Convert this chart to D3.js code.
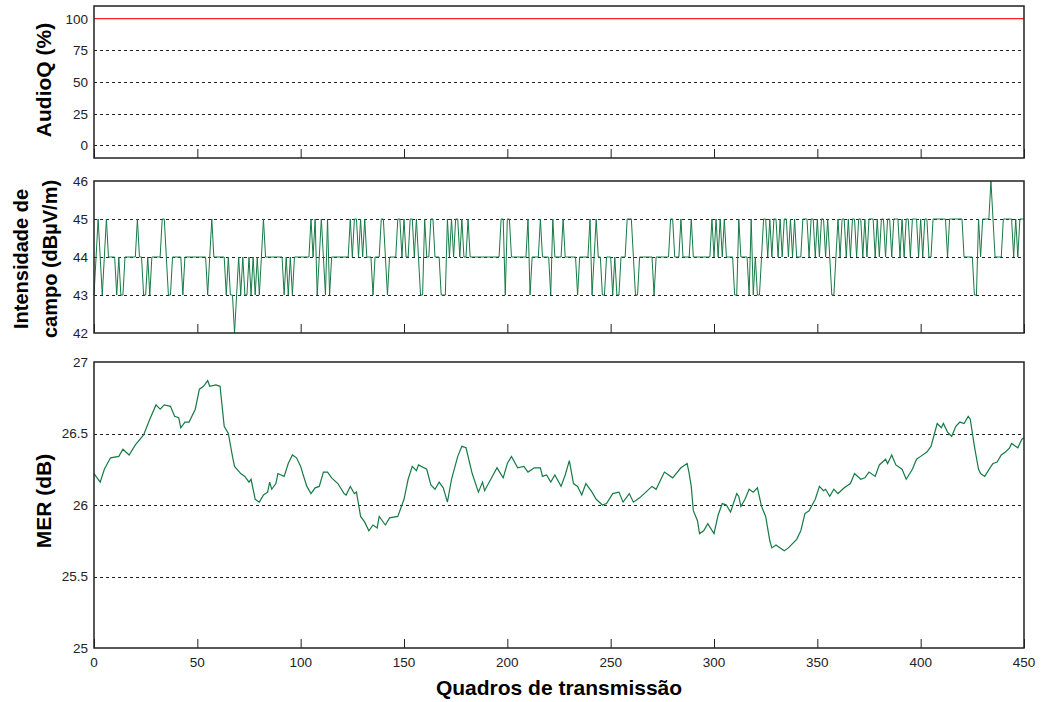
<!DOCTYPE html>
<html>
  <head>
    <meta charset="utf-8">
    <title>AudioQ / Intensidade / MER</title>
    <script src="https://cdn.jsdelivr.net/npm/d3@7/dist/d3.min.js"></script>
    <style>
      body { margin: 0; background: #fff; }
      text { font-family: "Liberation Sans", Arial, sans-serif; }
    </style>
  </head>
  <body>
    <svg id="chart" width="1042" height="702"></svg>
    <script>
      // eixo x comum
      var xTicks = [0, 50, 100, 150, 200, 250, 300, 350, 400, 450];

      // AudioQ (%) - constante em 100
      var audioFrames = [0, 450];
      var audioValues = [100, 100];
      var audioTicks = [0, 25, 50, 75, 100];

      // Intensidade de campo (dBuV/m), um valor por quadro
      var campoValues = [
        43,44,45,44,43,44,45,44,44,44, 44,43,44,43,43,44,44,44,44,44,
        44,45,44,44,43,43,44,43,44,44, 44,44,44,45,45,44,43,43,44,44,
        44,44,44,43,44,44,44,44,44,44, 44,44,44,44,44,43,44,45,44,44,
        44,44,44,44,43,44,43,43,42,43, 44,43,44,43,43,44,43,44,43,44,
        43,44,45,44,44,44,44,44,44,44, 44,44,43,44,43,44,43,44,44,44,
        44,44,44,44,44,45,44,45,43,44, 45,44,43,45,43,44,44,44,44,44,
        44,44,44,44,45,44,45,45,44,45, 44,45,44,44,44,43,44,44,44,45,
        45,44,43,44,44,44,44,45,45,44, 45,44,44,45,45,44,45,44,43,43,
        45,44,44,45,45,44,44,44,43,43, 43,45,44,45,44,45,45,44,45,44,
        44,45,44,44,44,44,44,44,44,44, 44,44,44,44,44,44,44,45,45,43,
        45,45,44,44,44,44,44,44,44,44, 45,43,44,44,44,44,45,44,44,44,
        44,43,45,44,44,44,44,45,44,44, 44,44,44,44,43,44,44,44,44,44,
        45,43,44,45,44,44,43,43,44,44, 44,43,44,43,43,44,44,44,45,45,
        45,44,43,43,44,44,44,44,44,44, 44,43,44,44,44,44,44,44,44,45,
        45,44,44,44,45,44,44,44,44,45, 44,44,44,44,44,44,44,44,44,45,
        44,45,44,45,44,45,44,44,44,44, 43,43,45,44,44,44,44,43,45,43,
        44,43,43,44,45,45,44,45,44,45, 45,44,45,44,45,45,44,45,44,45,
        44,44,44,45,45,45,44,45,45,44, 45,44,45,45,44,45,44,43,43,44,
        45,44,45,45,44,45,44,45,45,44, 45,45,44,45,44,45,45,45,44,45,
        44,45,45,44,45,45,44,45,45,45, 44,45,44,45,45,44,45,45,45,44,
        45,44,45,45,44,44,45,45,45,45, 45,45,45,44,45,45,45,45,45,45,
        45,44,44,44,44,44,43,43,45,44, 45,45,45,45,46,45,44,44,44,44,
        45,45,45,45,45,44,45,44,45,45, 45
      ];
      var campoTicks = [42, 43, 44, 45, 46];

      // MER (dB)
      var merFrames = [
        0,3,5,8,12,14,17,20,24,27,30,32,34,37,39,41,42,44,46,49,
        51,53,55,56,59,61,62,63,65,67,68,71,73,75,76,78,80,82,84,85,
        86,88,89,92,94,96,98,100,101,103,105,107,109,111,113,115,118,121,122,124,
        126,127,129,131,133,135,137,138,141,143,147,150,152,154,156,157,161,163,165,167,
        169,171,173,176,178,180,183,186,188,189,192,195,198,200,202,205,208,210,213,216,
        217,219,221,223,226,228,230,232,234,236,238,241,243,246,248,251,254,256,259,261,
        264,267,270,272,276,280,284,287,288,289,290,292,293,295,297,300,302,304,306,308,
        311,312,313,315,317,319,321,323,325,327,328,330,332,334,336,338,340,342,344,346,
        349,351,353,354,356,358,360,363,366,368,371,373,375,378,380,383,384,386,388,391,
        393,396,398,400,403,405,408,410,411,413,415,417,419,421,423,424,426,428,429,431,
        434,435,437,439,441,443,444,447,449,450
      ];
      var merValues = [
        26.22,26.16,26.25,26.33,26.34,26.39,26.35,26.42,26.49,26.60,26.70,26.67,26.70,26.69,26.62,26.61,26.54,26.58,26.58,26.67,
        26.81,26.83,26.87,26.83,26.84,26.83,26.69,26.55,26.50,26.34,26.27,26.22,26.20,26.16,26.18,26.04,26.02,26.07,26.09,26.16,
        26.11,26.15,26.22,26.20,26.29,26.35,26.33,26.27,26.22,26.13,26.08,26.12,26.13,26.23,26.23,26.19,26.15,26.08,26.07,26.13,
        26.08,26.09,25.92,25.88,25.82,25.86,25.84,25.92,25.86,25.91,25.92,26.04,26.18,26.27,26.24,26.28,26.25,26.14,26.11,26.16,
        26.12,26.02,26.18,26.34,26.41,26.40,26.22,26.09,26.16,26.10,26.18,26.26,26.19,26.29,26.34,26.26,26.27,26.23,26.26,26.26,
        26.20,26.21,26.16,26.21,26.13,26.21,26.31,26.15,26.13,26.07,26.15,26.09,26.04,26.00,26.01,26.08,26.09,26.02,26.08,26.02,
        26.05,26.09,26.13,26.11,26.23,26.19,26.26,26.29,26.22,26.13,25.96,25.89,25.80,25.82,25.87,25.80,25.93,26.01,26.00,25.95,
        26.08,26.06,25.99,26.04,26.11,26.09,26.12,25.99,25.92,25.75,25.70,25.72,25.70,25.68,25.70,25.73,25.76,25.82,25.94,25.96,
        26.04,26.13,26.10,26.11,26.06,26.11,26.08,26.12,26.15,26.22,26.18,26.19,26.23,26.20,26.28,26.32,26.29,26.35,26.28,26.25,
        26.18,26.25,26.32,26.34,26.37,26.41,26.57,26.54,26.57,26.51,26.48,26.55,26.58,26.57,26.62,26.60,26.41,26.25,26.22,26.20,
        26.27,26.29,26.30,26.35,26.37,26.40,26.43,26.40,26.46,26.47
      ];
      var merTicks = [25, 25.5, 26, 26.5, 27];

      var svg = d3.select("#chart");
      var left = 94, right = 1024;
      var green = "#167a45";

      var x = d3.scaleLinear().domain([0, 450]).range([left, right]);

      // paineis: top / bottom em px e dominio y
      var panels = [
        {top: 6, bottom: 158, domain: [-10, 110], ticks: audioTicks, grid: [0, 25, 50, 75], xLabels: false},
        {top: 181, bottom: 333, domain: [42, 46], ticks: campoTicks, grid: [43, 44, 45], xLabels: false},
        {top: 362, bottom: 648, domain: [25, 27], ticks: merTicks, grid: [25.5, 26, 26.5], xLabels: true}
      ];

      panels.forEach(function(p) {
        p.y = d3.scaleLinear().domain(p.domain).range([p.bottom, p.top]);
        var g = svg.append("g");

        g.append("rect")
          .attr("x", left).attr("y", p.top)
          .attr("width", right - left).attr("height", p.bottom - p.top)
          .attr("fill", "#fff");

        g.selectAll(".grid").data(p.grid).enter().append("line")
          .attr("x1", left).attr("x2", right)
          .attr("y1", function(d) { return Math.round(p.y(d)) + 0.5; })
          .attr("y2", function(d) { return Math.round(p.y(d)) + 0.5; })
          .attr("stroke", "#222").attr("stroke-width", 1)
          .attr("stroke-dasharray", "3,3");

        // ticks do eixo x, para dentro
        var xAxis = d3.axisTop(x).tickValues(xTicks).tickSize(9).tickFormat("");
        var ax = g.append("g").attr("transform", "translate(0," + p.bottom + ")").call(xAxis);
        ax.select(".domain").remove();
        ax.selectAll("line").attr("stroke", "#222");

        if (p.xLabels) {
          g.selectAll(".xl").data(xTicks).enter().append("text")
            .attr("x", function(d) { return x(d); })
            .attr("y", p.bottom + 19)
            .attr("text-anchor", "middle")
            .attr("font-size", "13.5px").attr("fill", "#222")
            .text(function(d) { return d; });
        }

        g.selectAll(".yl").data(p.ticks).enter().append("text")
          .attr("x", left - 6)
          .attr("y", function(d) { return p.y(d); })
          .attr("dy", "0.36em")
          .attr("text-anchor", "end")
          .attr("font-size", "13.5px").attr("fill", "#222")
          .text(function(d) { return d; });

        p.g = g;
      });

      // AudioQ
      var p0 = panels[0];
      p0.g.append("path")
        .datum(d3.zip(audioFrames, audioValues))
        .attr("d", d3.line().x(function(d) { return x(d[0]); }).y(function(d) { return p0.y(d[1]); }))
        .attr("fill", "none").attr("stroke", "#ff2020").attr("stroke-width", 1.3);

      // Intensidade de campo
      var p1 = panels[1];
      p1.g.append("path")
        .datum(campoValues)
        .attr("d", d3.line().x(function(d, i) { return x(i); }).y(function(d) { return p1.y(d); }))
        .attr("fill", "none").attr("stroke", green).attr("stroke-width", 1);

      // MER
      var p2 = panels[2];
      p2.g.append("path")
        .datum(d3.zip(merFrames, merValues))
        .attr("d", d3.line().x(function(d) { return x(d[0]); }).y(function(d) { return p2.y(d[1]); }))
        .attr("fill", "none").attr("stroke", green).attr("stroke-width", 1.2);

      // molduras
      panels.forEach(function(p) {
        p.g.append("rect")
          .attr("x", left).attr("y", p.top)
          .attr("width", right - left).attr("height", p.bottom - p.top)
          .attr("fill", "none").attr("stroke", "#222").attr("stroke-width", 1.5);
      });

      // rotulos dos eixos
      function yLabel(lines, cy, xs, size) {
        lines.forEach(function(s, i) {
          svg.append("text")
            .attr("transform", "translate(" + xs[i] + "," + cy + ") rotate(-90)")
            .attr("text-anchor", "middle")
            .attr("font-size", size).attr("font-weight", "bold").attr("fill", "#000")
            .text(s);
        });
      }
      yLabel(["AudioQ (%)"], 80, [51], "21px");
      yLabel(["Intensidade de", "campo (dBµV/m)"], 259, [28, 57], "20px");
      yLabel(["MER (dB)"], 501, [51], "21px");

      svg.append("text")
        .attr("x", (left + right) / 2).attr("y", 695)
        .attr("text-anchor", "middle")
        .attr("font-size", "21px").attr("font-weight", "bold").attr("fill", "#000")
        .text("Quadros de transmissão");
    </script>
  </body>
</html>
